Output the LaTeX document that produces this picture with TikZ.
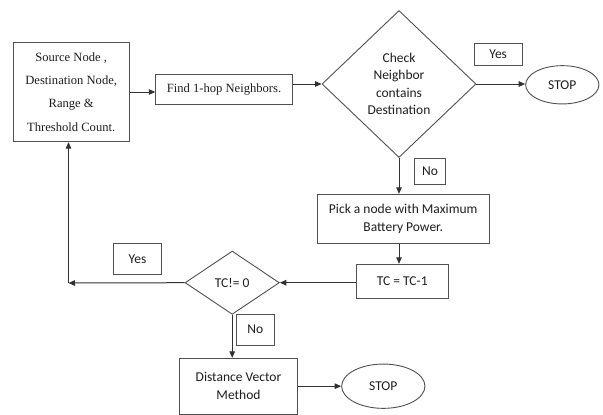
\documentclass[tikz,border=0pt]{standalone}
\usepackage{fontspec}
\setmainfont{Liberation Serif}
\newfontfamily\calfont{Carlito}
\usetikzlibrary{shapes.geometric,arrows.meta}
\definecolor{ln}{RGB}{50,50,50}
\definecolor{bx}{RGB}{80,80,80}
\definecolor{tx}{RGB}{30,30,30}
\begin{document}
\begin{tikzpicture}[x=1pt,y=-1pt,
  box/.style={draw=bx,line width=0.9pt,rectangle,inner sep=0pt,align=center,text=tx},
  serifbox/.style={box,font=\fontsize{12.6}{23.3}\selectfont},
  calbox/.style={box,font=\calfont\fontsize{13.5}{18}\selectfont},
  dia/.style={draw=bx,line width=0.9pt,diamond,inner sep=0pt,align=center,text=tx,font=\calfont\fontsize{13.5}{17.4}\selectfont},
  stopnode/.style={draw=bx,line width=0.9pt,ellipse,inner sep=0pt,text=tx,font=\calfont\fontsize{13.5}{15}\selectfont},
  arr/.style={draw=ln,line width=1pt,-{Triangle[length=6.5pt,width=5.5pt]}}]
\useasboundingbox (0,0) rectangle (603,415);
\node[serifbox,minimum width=115.7pt,minimum height=99.4pt] (src) at (71.2,92) {Source Node ,\\Destination Node,\\Range \&\\Threshold Count.};
\node[serifbox,minimum width=136.6pt,minimum height=30pt] (find) at (224,89.3) {Find 1-hop Neighbors.};
\node[dia,minimum width=154pt,minimum height=147pt] (d1) at (399,84) {Check\\Neighbor\\contains\\Destination};
\node[calbox,minimum width=48.3pt,minimum height=21.7pt] (yes1) at (498.2,54.2) {Yes};
\node[stopnode,minimum width=73.3pt,minimum height=38.3pt] (stop1) at (562.3,84.8) {STOP};
\node[calbox,minimum width=31.7pt,minimum height=26.7pt] (no1) at (430,171.5) {No};
\node[calbox,minimum width=171.7pt,minimum height=49pt] (pick) at (403.2,218.8) {Pick a node with Maximum\\Battery Power.};
\node[calbox,minimum width=92.3pt,minimum height=34pt] (tc) at (402.2,281.3) {TC = TC-1};
\node[dia,minimum width=94.3pt,minimum height=63.3pt] (d2) at (232.2,282.7) {TC!= 0};
\node[calbox,minimum width=48.3pt,minimum height=31pt] (yes2) at (137.5,258.8) {Yes};
\node[calbox,minimum width=38pt,minimum height=30.7pt] (no2) at (255.3,329.7) {No};
\node[calbox,minimum width=118.4pt,minimum height=56pt] (dv) at (238.5,386.3) {Distance Vector\\Method};
\node[stopnode,minimum width=83.3pt,minimum height=44.3pt] (stop2) at (383.3,386.2) {STOP};
\coordinate (corner) at (68.5,283);
\path[arr] (src.east) -- (src.east -| find.west);
\path[arr] (find.east |- d1.west) -- (d1.west);
\path[arr] (d1.east) -- (d1.east -| stop1.west);
\path[arr] (d1.south) -- (d1.south |- pick.north);
\path[arr] (d1.south |- pick.south) -- (d1.south |- tc.north);
\path[arr] (tc.west |- d2.east) -- (d2.east);
\path[arr] (d2.west) -- (corner);
\path[arr] (corner) -- (corner |- src.south);
\path[arr] (d2.south) -- (d2.south |- dv.north);
\path[arr] (dv.east |- stop2.west) -- (stop2.west);
\end{tikzpicture}
\end{document}
